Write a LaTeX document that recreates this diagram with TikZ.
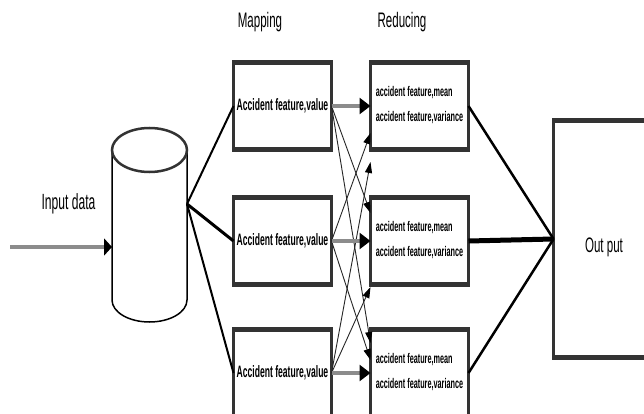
\documentclass[tikz,border=0pt]{standalone}
\usepackage{fontspec}
\setmainfont{Liberation Sans}
\usetikzlibrary{arrows.meta,calc}
\definecolor{boxgray}{HTML}{333333}
\definecolor{arrowgray}{HTML}{8C8C8C}
\newcommand{\narrow}[1]{\scalebox{0.55}[1]{#1}}
\newcommand{\narrowb}[1]{\scalebox{0.52}[1]{#1}}
\begin{document}
\begin{tikzpicture}[x=1pt,y=-1pt,
  box/.style={draw=boxgray, line width=3pt, outer sep=0pt, inner sep=0pt,
    minimum width=98pt, minimum height=87pt, fill=white},
  edgebar/.style={draw=boxgray, line width=5pt, shorten <=-1.5pt, shorten >=-1.5pt},
  title/.style={anchor=base, font=\fontsize{21}{25}\selectfont},
  maptext/.style={font=\fontsize{16.5}{19}\selectfont\bfseries},
  mainarrow/.style={draw=arrowgray, line width=4.5pt,
    -{Triangle[color=black,length=11pt,width=16pt]}},
  crossarrow/.style={draw=black!85, line width=0.9pt,
    -{Triangle[color=black,length=11pt,width=7pt]}},
  feed/.style={draw=black, line width=2pt},
]
\useasboundingbox (0,0) rectangle (644,414);
\fill[white] (0,0) rectangle (644,414);

% titles
\node[title] (maptitle) at (260,28) {\narrow{Mapping}};
\node[title] (redtitle) at (402,28) {\narrow{Reducing}};
\node[anchor=base, font=\fontsize{22}{26}\selectfont] (inlabel) at (68.5,209) {\narrow{Input data}};

% cylinder
\node[minimum width=75pt, minimum height=194pt, inner sep=0pt, outer sep=0pt] (db) at (149.5,225) {};
\draw[black, line width=1.5pt] ($(db.north west)+(0,22)$) -- ($(db.south west)+(0,-22)$)
  arc[start angle=180, end angle=0, x radius=37.5, y radius=22] -- ($(db.north east)+(0,22)$);
\draw[boxgray, line width=2.5pt, fill=white] ($(db.north)+(0,22)$) ellipse[x radius=37.5, y radius=22];

% mapping boxes
\node[box, maptext] (m1) at (282.5,106) {\narrowb{Accident feature,value}};
\node[box, maptext] (m2) at (282.5,241) {\narrowb{Accident feature,value}};
\node[box, maptext] (m3) at (282.5,373) {\narrowb{Accident feature,value}};

% reducing boxes
\foreach \n/\y in {r1/106, r2/241, r3/373}{
  \node[box] (\n) at (419.5,\y) {\narrowb{\fontsize{14}{16.8}\selectfont\bfseries
    \begin{tabular}{@{}l@{}}accident feature,mean\\[8pt]accident feature,variance\end{tabular}}};
}

% output box
\node[draw=boxgray, line width=3pt, outer sep=0pt, minimum width=150pt, minimum height=237pt] (out) at (628.5,239) {};
\node[title] (outlabel) at (604,252) {\narrow{Out put}};

% thick top and bottom borders
\foreach \n in {m1,m2,m3,r1,r2,r3,out}{
  \draw[edgebar] (\n.north west) -- (\n.north east);
  \draw[edgebar] (\n.south west) -- (\n.south east);
}

% input arrow
\coordinate (src) at (10,247);
\draw[draw=arrowgray, line width=4.5pt, -{Triangle[color=black,length=8pt,width=17pt]}]
  (src) -- ($(db.west)+(0,22)$);

% cylinder to mappers
\coordinate (dbout) at ($(db.east)+(0,-21)$);
\draw[feed] (dbout) -- (m1.west);
\draw[feed, line width=3pt] (dbout) -- (m2.west);
\draw[feed] (dbout) -- (m3.west);

% cross connections
\draw[crossarrow] (m1.east) -- ($(r2.west)+(0,-28)$);
\draw[crossarrow] (m1.east) -- ($(r3.west)+(0,-30)$);
\draw[crossarrow] (m2.east) -- ($(r1.west)+(0,27)$);
\draw[crossarrow] (m2.east) -- ($(r3.west)+(0,-13)$);
\draw[crossarrow] (m3.east) -- ($(r1.west)+(0,56)$);
\draw[crossarrow] (m3.east) -- ($(r2.west)+(0,46)$);

% main arrows
\draw[mainarrow] (m1.east) -- (r1.west);
\draw[mainarrow] (m2.east) -- (r2.west);
\draw[mainarrow] (m3.east) -- (r3.west);

% reducers to output
\draw[black, line width=2.5pt] (r1.east) -- (out.west);
\draw[black, line width=5pt] (r2.east) -- (out.west);
\draw[black, line width=2.5pt] (r3.east) -- (out.west);
\end{tikzpicture}
\end{document}
